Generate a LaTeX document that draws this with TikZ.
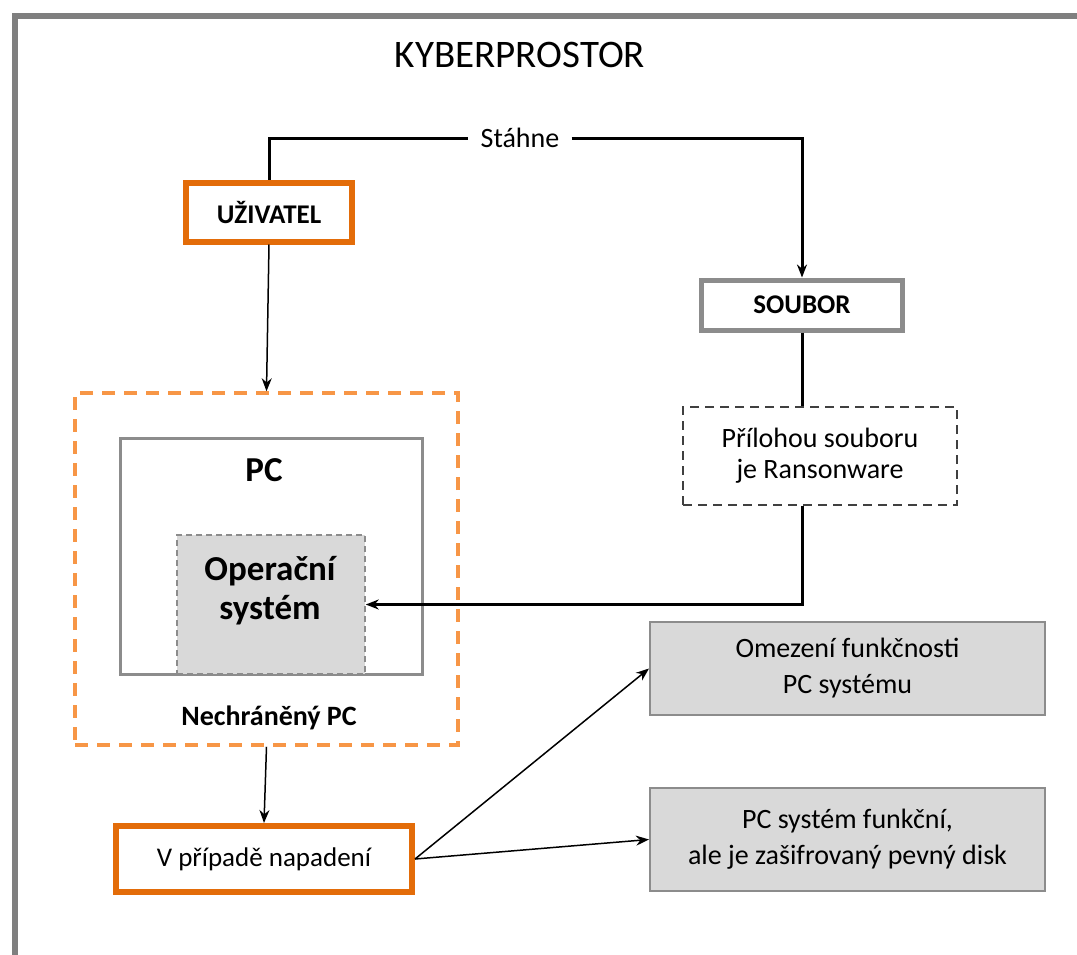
\documentclass[tikz,border=0pt]{standalone}
\usepackage{fontspec}
\setmainfont{Carlito}
\usetikzlibrary{arrows.meta,positioning}
\definecolor{frameGray}{HTML}{7F7F7F}
\definecolor{boxGray}{HTML}{8C8C8C}
\definecolor{fillGray}{HTML}{D9D9D9}
\definecolor{darkOrange}{HTML}{E36C09}
\definecolor{lightOrange}{HTML}{F79646}

\begin{document}
\begin{tikzpicture}[x=1pt, y=-1pt,
    actor/.style={rectangle, draw=darkOrange, line width=6pt, fill=white, font=\fontsize{27}{33}\selectfont},
    item/.style={rectangle, draw=boxGray, line width=5pt, fill=white, font=\fontsize{27}{33}\selectfont\bfseries},
    result/.style={rectangle, draw=boxGray, line width=2pt, fill=fillGray, align=center, font=\fontsize{28}{36}\selectfont},
    thin/.style={line width=1.5pt},
    thick/.style={line width=3pt},
    >={Stealth[length=13pt,width=10pt]}
]
    \useasboundingbox (0,0) rectangle (1077,954);

    % Frame
    \draw[line width=6pt, frameGray] (1090,16) -- (15,16) -- (15,970);
    \node[font=\fontsize{39}{45}\selectfont] (title) at (520,55) {KYBERPROSTOR};

    % User and file
    \node[actor, minimum width=166pt, minimum height=59pt, font=\fontsize{27}{33}\selectfont\bfseries] (user) at (269,212) {UŽIVATEL};
    \node[font=\fontsize{28}{34}\selectfont, inner xsep=12pt] (download) at (520,138) {Stáhne};
    \node[item, minimum width=201pt, minimum height=50pt] (file) at (802,305) {SOUBOR};
    \node[rectangle, draw=black!75, dashed, line width=2pt, dash pattern=on 9pt off 6pt, minimum width=274pt, minimum height=98pt, align=center, font=\fontsize{28}{31}\selectfont] (ransom) at (820,456) {Přílohou souboru\\je Ransonware};

    % Unprotected PC
    \node[rectangle, draw=lightOrange, line width=3.5pt, dash pattern=on 13pt off 9pt, minimum width=383pt, minimum height=352pt] (unprotected) at (266.5,569) {};
    \node[rectangle, draw=boxGray, line width=3pt, minimum width=302pt, minimum height=236pt] (pcbox) at (271,556) {};
    \node[font=\fontsize{35}{40}\selectfont\bfseries] (pc) at (264,470) {PC};
    \node[rectangle, draw=boxGray, fill=fillGray, line width=1.5pt, dash pattern=on 6pt off 4pt, minimum width=188pt, minimum height=139pt] (os) at (271,604.5) {};
    \node[align=center, font=\fontsize{35}{39}\selectfont\bfseries] (ostext) at (270,591) {Operační\\systém};
    \node[font=\fontsize{28}{34}\selectfont\bfseries] (unprotectedlabel) at (269,718) {Nechráněný PC};

    % Attack
    \node[actor, minimum width=296pt, minimum height=66pt] (attack) at (264,859) {V případě napadení};
    \node[result, minimum width=395pt, minimum height=93pt] (limit) at (847.5,668.5) {Omezení funkčnosti\\PC systému};
    \node[result, minimum width=395pt, minimum height=103pt] (encrypted) at (847.5,839.5) {PC systém funkční,\\ale je zašifrovaný pevný disk};

    \draw[thick] (user.north) |- (download.west);
    \draw[thick, ->] (download.east) -| (file.north);
    \draw[thin, ->] (user.south) -- (unprotected.north);
    \draw[thick] (file.south) -- (file.south |- ransom.north);
    \draw[thick, ->] (file.south |- ransom.south) |- (os.east);
    \draw[thin, ->] (unprotected.south) -- (attack.north);
    \draw[thin, ->] (attack.east) -- (limit.west);
    \draw[thin, ->] (attack.east) -- (encrypted.west);
\end{tikzpicture}
\end{document}
